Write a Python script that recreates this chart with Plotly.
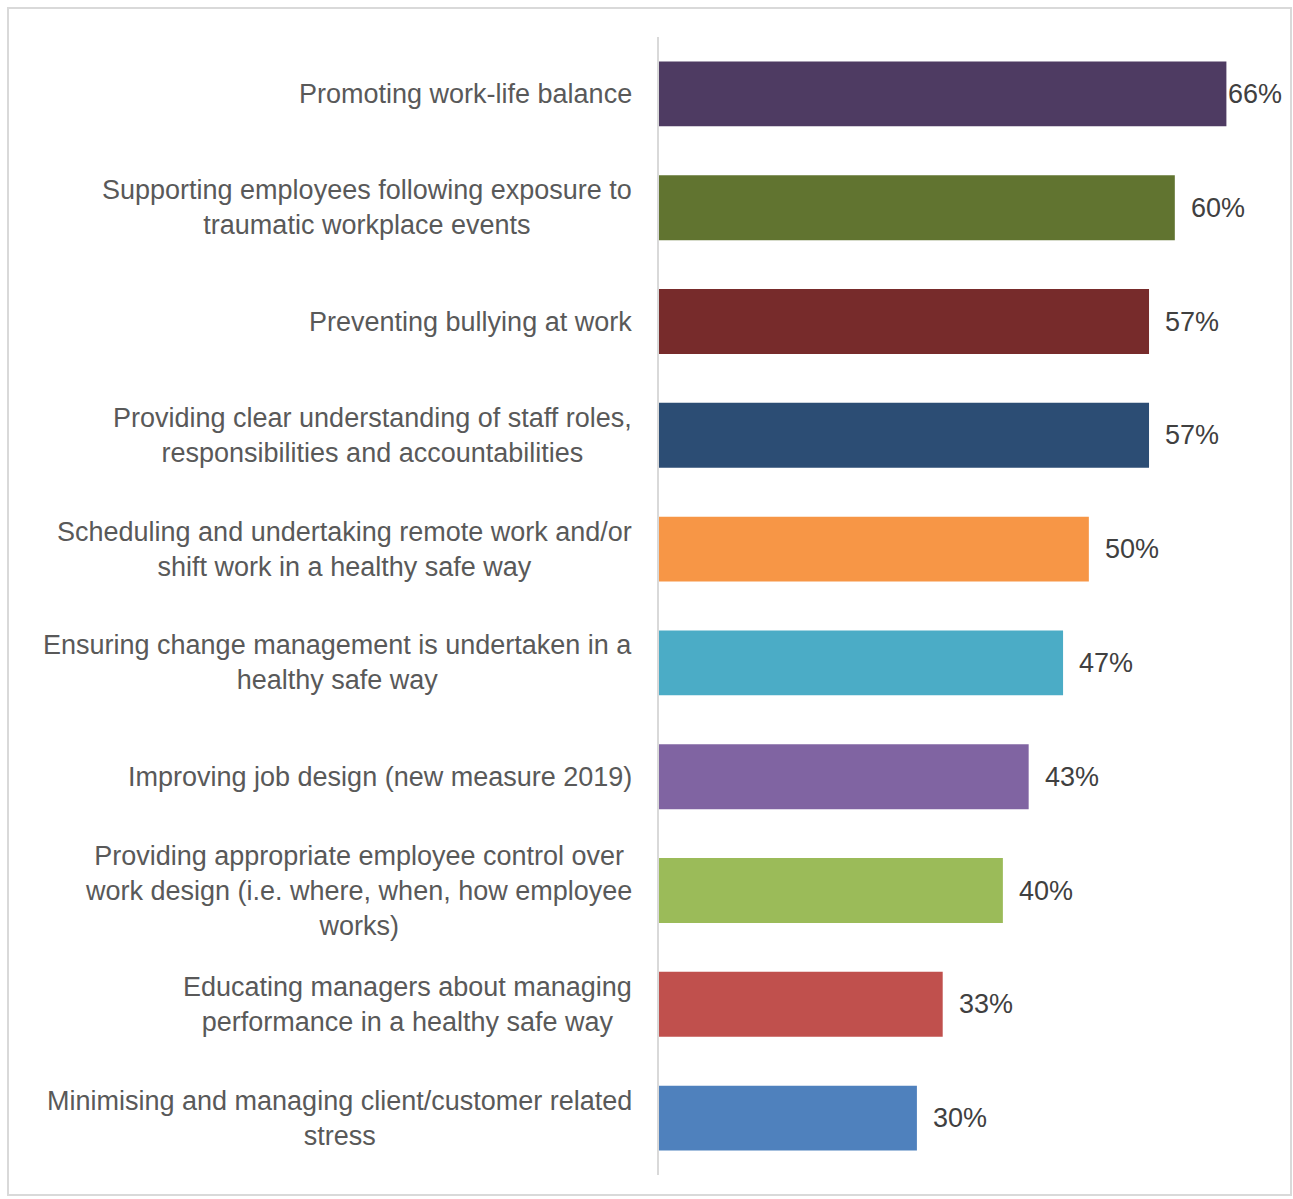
import plotly.graph_objects as go

categories = [
    "Promoting work-life balance",
    "Supporting employees following exposure to<br>traumatic workplace events",
    "Preventing bullying at work",
    "Providing clear understanding of staff roles,<br>responsibilities and accountabilities",
    "Scheduling and undertaking remote work and/or<br>shift work in a healthy safe way",
    "Ensuring change management is undertaken in a<br>healthy safe way",
    "Improving job design (new measure 2019)",
    "Providing appropriate employee control over<br>work design (i.e. where, when, how employee<br>works)",
    "Educating managers about managing<br>performance in a healthy safe way",
    "Minimising and managing client/customer related<br>stress",
]
values = [66, 60, 57, 57, 50, 47, 43, 40, 33, 30]
value_labels = ["66%", "60%", "57%", "57%", "50%", "47%", "43%", "40%", "33%", "30%"]
colors = ["#4E3B62", "#617430", "#772B2B", "#2C4D74", "#F79646",
          "#4BACC6", "#8064A2", "#9BBB59", "#C0504D", "#4F81BD"]

FONT = "Liberation Sans, Arial, sans-serif"
W, H = 1293, 1199
L, R, T, B = 659, 9, 37, 24

fig = go.Figure(go.Bar(
    x=values, y=list(range(len(categories))), orientation="h",
    marker=dict(color=colors, line=dict(width=0)),
    hoverinfo="skip",
))

annotations = []
for i, (c, v, lab) in enumerate(zip(categories, values, value_labels)):
    annotations.append(dict(
        x=0, xref="paper", y=i, yref="y", text=c, showarrow=False,
        xanchor="right", yanchor="middle", align="center", xshift=-25,
        font=dict(family=FONT, size=27, color="#595959"),
    ))
    annotations.append(dict(
        x=v, xref="x", y=i, yref="y", text=lab, showarrow=False,
        xanchor="left", yanchor="middle", xshift=(0 if v == max(values) else 14),
        font=dict(family=FONT, size=27, color="#404040"),
    ))

pw = W - L - R
ph = H - T - B
fig.update_layout(
    width=W, height=H,
    margin=dict(l=L, r=R, t=T, b=B, pad=0),
    paper_bgcolor="white", plot_bgcolor="white",
    showlegend=False, bargap=0.43,
    xaxis=dict(range=[0, 72.7], visible=False, fixedrange=True),
    yaxis=dict(range=[len(categories) - 0.5, -0.5], showticklabels=False,
               showgrid=False, zeroline=False, ticks="",
               showline=True, linecolor="#D9D9D9", linewidth=2, fixedrange=True),
    annotations=annotations,
    shapes=[dict(
        type="rect", xref="paper", yref="paper",
        x0=(8 - L) / pw, x1=(W - 2 - L) / pw,
        y0=-(1195 - (H - B)) / ph, y1=((H - B) - 8) / ph,
        line=dict(color="#D9D9D9", width=2), fillcolor="rgba(0,0,0,0)", layer="below",
    )],
)

fig.write_html(
    "out.html",
    config={"displayModeBar": False},
    post_script="document.body.style.margin='0';document.body.style.overflow='hidden';",
)
